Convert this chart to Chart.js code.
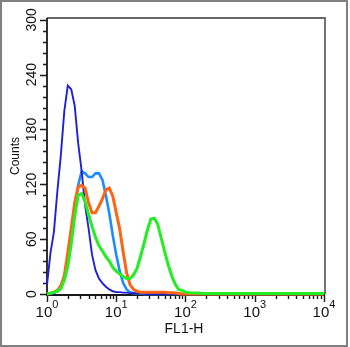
<!DOCTYPE html>
<html><head><meta charset="utf-8">
<script src="https://cdn.jsdelivr.net/npm/chart.js@4.4.1/dist/chart.umd.min.js"></script>
<style>html,body{margin:0;padding:0;background:#fff;}#wrap{width:350px;height:347px;position:relative;}</style>
</head><body><div id="wrap"><canvas id="c" width="350" height="347"></canvas></div>
<script>
// FL1-H channel positions (log-spaced bins)
const bins = [1, 1.122, 1.259, 1.413, 1.585, 1.778, 1.995, 2.239, 2.512, 2.818,
  3.162, 3.548, 3.981, 4.467, 5.012, 5.623, 6.31, 7.079, 7.943, 8.913,
  10, 11.22, 12.59, 14.13, 15.85, 17.78, 19.95, 22.39, 25.12, 28.18,
  31.62, 35.48, 39.81, 44.67, 50.12, 56.23, 63.1, 70.79, 79.43, 89.13,
  100, 112.2, 125.9, 141.3, 158.5, 177.8, 300, 1000, 3000, 10000];
// counts per bin
const darkBlue = [10, 45, 68, 113, 152, 200, 228, 224, 206, 165,
  135, 97, 72, 43, 26, 17, 12, 8, 5, 3,
  2, 2, 1.5, 1.5, 1, 1, 1, 0.5, 0.5, 0,
  0, 0, 0, 0, 0, 0, 0, 0, 0, 0,
  0, 0, 0, 0, 0, 0, 0, 0, 0, 0];
const lightBlue = [0, 0.5, 1, 3, 7, 18, 40, 68, 92, 119,
  134, 132, 128, 128, 132, 132, 125, 108, 88, 64,
  43, 25, 12, 5, 2, 1, 1, 0.5, 0, 0,
  0, 0, 0, 0, 0, 0, 0, 0, 0, 0,
  0, 0, 0, 0, 0, 0, 0, 0, 0, 0];
const orange = [0, 1, 2, 4, 9, 20, 45, 72, 100, 117,
  119, 116, 100, 89, 89, 96, 104, 114, 116, 107,
  89, 71, 46, 23, 10, 5, 3, 2, 2, 2,
  2, 2, 2, 2, 2, 1.5, 1.5, 1, 0.5, 0,
  0, 0, 0, 0, 0, 0, 0, 0, 0, 0];
const green = [0, 1, 2, 3, 6, 15, 30, 55, 85, 108,
  110, 101, 87, 74, 62, 53, 47, 41, 36, 29,
  25, 22, 19, 17, 17, 21, 28, 41, 55, 70,
  82, 83, 76, 61, 46, 32, 20, 11, 5, 4,
  2, 1.5, 1, 1, 1, 0.5, 0.5, 0.5, 0.5, 0.5];

const yTicks = [0, 60, 120, 180, 240, 300];
const yMinorStep = 12;
const xExponents = [0, 1, 2, 3, 4];
const yTitle = 'Counts';
const xTitle = 'FL1-H';

const FONT = '"Liberation Sans", Arial, Helvetica, sans-serif';
function pts(arr) { return bins.map((b, i) => ({ x: b, y: arr[i] })); }

const axisPlugin = {
  id: 'facsAxes',
  beforeDraw(chart) {
    const ctx = chart.ctx;
    ctx.save();
    ctx.fillStyle = '#fff';
    ctx.fillRect(0, 0, chart.width, chart.height);
    ctx.strokeStyle = '#808080';
    ctx.lineWidth = 2;
    ctx.strokeRect(1, 1, 346, 345);
    ctx.restore();
  },
  beforeDatasetsDraw(chart) {
    const ctx = chart.ctx, a = chart.chartArea;
    const xs = chart.scales.x, ys = chart.scales.y;
    ctx.save();
    ctx.strokeStyle = '#666';
    ctx.lineWidth = 1.8;
    ctx.beginPath();
    ctx.moveTo(a.left, a.top); ctx.lineTo(a.right, a.top); ctx.lineTo(a.right, a.bottom);
    ctx.stroke();
    ctx.strokeStyle = '#1a1a1a';
    ctx.lineWidth = 1.8;
    ctx.beginPath();
    ctx.moveTo(a.left, a.top); ctx.lineTo(a.left, a.bottom + 1); ctx.lineTo(a.right, a.bottom + 1);
    ctx.stroke();
    ctx.lineWidth = 1.4;
    ctx.beginPath();
    for (let v = 0; v <= 300; v += yMinorStep) {
      const y = Math.round(ys.getPixelForValue(v)) + 0.5;
      const major = yTicks.includes(v);
      ctx.moveTo(a.left, y); ctx.lineTo(a.left - (major ? 7 : 4), y);
    }
    ctx.stroke();
    ctx.beginPath();
    for (let e = 0; e <= 4; e++) {
      for (let m = 1; m <= 9; m++) {
        if (e === 4 && m > 1) break;
        const x = Math.round(xs.getPixelForValue(m * Math.pow(10, e))) + 0.5;
        ctx.moveTo(x, a.bottom + 1); ctx.lineTo(x, a.bottom + 1 + (m === 1 ? 7 : 4));
      }
    }
    ctx.stroke();
    ctx.restore();
  },
  afterDraw(chart) {
    const ctx = chart.ctx, a = chart.chartArea;
    const xs = chart.scales.x, ys = chart.scales.y;
    ctx.save();
    ctx.fillStyle = '#111';
    ctx.font = '14px ' + FONT;
    ctx.textAlign = 'center';
    ctx.textBaseline = 'alphabetic';
    yTicks.forEach(t => {
      const y = ys.getPixelForValue(t);
      ctx.save(); ctx.translate(36, y); ctx.rotate(-Math.PI / 2);
      ctx.fillText(String(t), 0, 0); ctx.restore();
    });
    ctx.font = '12px ' + FONT;
    ctx.save(); ctx.translate(18.5, (a.top + a.bottom) / 2); ctx.rotate(-Math.PI / 2);
    ctx.fillText(yTitle, 0, 0); ctx.restore();
    ctx.textAlign = 'left';
    xExponents.forEach(e => {
      const x = xs.getPixelForValue(Math.pow(10, e));
      ctx.font = '15px ' + FONT; const w1 = ctx.measureText('10').width;
      ctx.font = '11px ' + FONT; const w2 = ctx.measureText(String(e)).width;
      const s = x - (w1 + w2) / 2;
      ctx.font = '15px ' + FONT; ctx.fillText('10', s, 317);
      ctx.font = '11px ' + FONT; ctx.fillText(String(e), s + w1, 308);
    });
    ctx.font = '14px ' + FONT;
    ctx.textAlign = 'center';
    ctx.fillText(xTitle, 184, 333);
    ctx.restore();
  }
};

new Chart(document.getElementById('c'), {
  type: 'line',
  data: {
    datasets: [
      { label: 'green', data: pts(green), borderColor: '#22ee22', borderWidth: 3, order: 1 },
      { label: 'orange', data: pts(orange), borderColor: '#ff6415', borderWidth: 3, order: 2 },
      { label: 'dark blue', data: pts(darkBlue), borderColor: '#2020d6', borderWidth: 1.9, order: 3 },
      { label: 'light blue', data: pts(lightBlue), borderColor: '#1e8cff', borderWidth: 2.6, order: 4 }
    ]
  },
  options: {
    responsive: false, animation: false, devicePixelRatio: 1,
    layout: { padding: { left: 47, top: 18, right: 25, bottom: 53 } },
    elements: { point: { radius: 0 }, line: { tension: 0, borderJoinStyle: 'miter' } },
    datasets: { line: { clip: false, fill: false, pointRadius: 0 } },
    plugins: { legend: { display: false }, tooltip: { enabled: false } },
    scales: {
      x: { type: 'logarithmic', min: 1, max: 10340, display: false },
      y: { type: 'linear', min: 0, max: 302, display: false }
    }
  },
  plugins: [axisPlugin]
});
</script></body></html>
